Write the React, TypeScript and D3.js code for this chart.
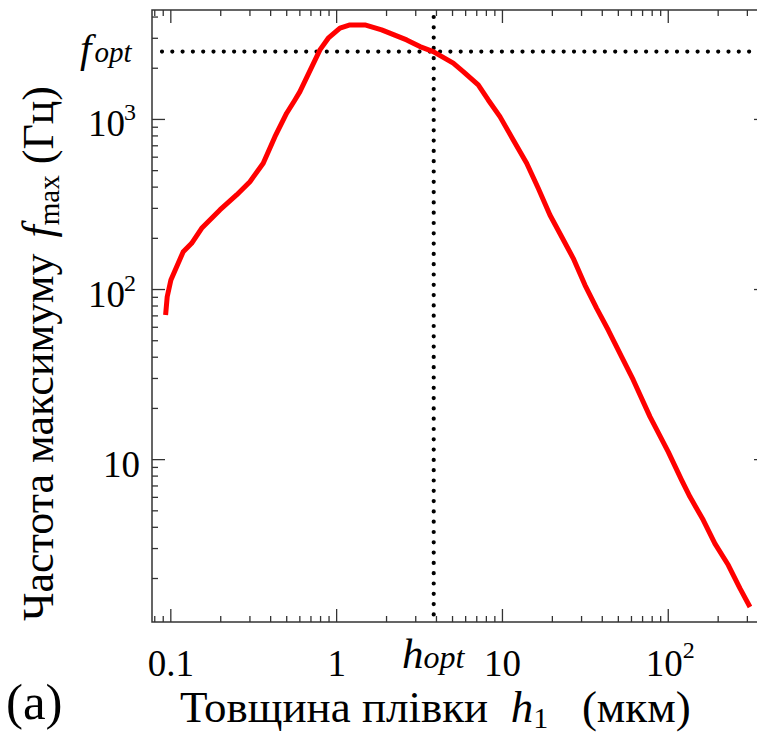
import React from "react";
import * as d3 from "d3";

const thickness = [0.093, 0.0951, 0.1001, 0.1188, 0.1335, 0.1534, 0.1977, 0.2493, 0.3, 0.3608, 0.4245, 0.4994, 0.5603, 0.6006, 0.7931, 0.8898, 1.047, 1.203, 1.481, 1.868, 2.644, 3.18, 3.825, 5.05, 5.801, 7.145, 8.21, 9.659, 11.62, 14.0, 16.44, 19.34, 22.76, 26.73, 31.45, 37.0, 43.46, 52.36, 61.51, 77.54, 100, 120.4, 135.2, 162.6, 191.2, 230.1, 270.7, 311.1];
const fmax = [70.8, 90.7, 113.7, 166.9, 187.0, 229.1, 293.6, 359.7, 430.7, 552.6, 792.1, 1088, 1302, 1457, 2564, 3003, 3440, 3596, 3596, 3361, 2935, 2681, 2505, 2141, 1911, 1595, 1302, 1039, 757.5, 552.6, 393.9, 274.3, 204.4, 152.6, 106.3, 77.5, 57.8, 40.2, 29.4, 17.9, 11.1, 7.58, 6.04, 4.41, 3.21, 2.4, 1.75, 1.36];
const xDomain = [0.077, 394];
const yDomain = [1.11, 4400];
const hOpt = 3.85;
const fOpt = 2505;
const xTickLabels = [
  { v: 0.1, base: "0.1", sup: "" },
  { v: 1, base: "1", sup: "" },
  { v: 10, base: "10", sup: "" },
  { v: 100, base: "10", sup: "2" },
];
const yTickLabels = [
  { v: 10, base: "10", sup: "" },
  { v: 100, base: "10", sup: "2" },
  { v: 1000, base: "10", sup: "3" },
];

const W = 757, H = 736;
const L = 152, R = 767, T = 10, B = 622;
const FONT = "Liberation Serif, DejaVu Serif, Times New Roman, serif";

function minorTicks(domain: number[]) {
  const out: { v: number; major: boolean }[] = [];
  for (let e = -3; e <= 5; e++) {
    for (let m = 1; m <= 9; m++) {
      const v = m * Math.pow(10, e);
      if (v >= domain[0] && v <= domain[1]) out.push({ v, major: m === 1 });
    }
  }
  return out;
}

export default function App() {
  const x = d3.scaleLog().domain(xDomain).range([L, R]);
  const y = d3.scaleLog().domain(yDomain).range([B, T]);
  const line = d3.line<number>().x((_, i) => x(thickness[i])).y((d) => y(d));
  const xt = minorTicks(xDomain);
  const yt = minorTicks(yDomain);
  const axisColor = "#333";
  const major = 13, minor = 6;
  const ts = { fontFamily: FONT };
  return (
    <svg width={W} height={H} style={{ position: "fixed", left: 0, top: 0, background: "#fff" }}>
      <rect x={0} y={0} width={W} height={H} fill="#fff" />
      <rect x={L} y={T} width={R - L} height={B - T} fill="none" stroke={axisColor} strokeWidth={1.5} />
      {xt.map((t, i) => {
        const px = x(t.v);
        const len = t.major ? major : minor;
        return (
          <g key={"x" + i}>
            <line x1={px} x2={px} y1={B} y2={B - len} stroke={axisColor} strokeWidth={1.3} />
            <line x1={px} x2={px} y1={T} y2={T + len} stroke={axisColor} strokeWidth={1.3} />
          </g>
        );
      })}
      {yt.map((t, i) => {
        const py = y(t.v);
        const len = t.major ? major : minor;
        return (
          <g key={"y" + i}>
            <line x1={L} x2={L + len} y1={py} y2={py} stroke={axisColor} strokeWidth={1.3} />
            <line x1={R} x2={R - len} y1={py} y2={py} stroke={axisColor} strokeWidth={1.3} />
          </g>
        );
      })}
      <line x1={L + 10} x2={W} y1={y(fOpt)} y2={y(fOpt)} stroke="#000" strokeWidth={4.2} strokeLinecap="round" strokeDasharray="0 10.3" />
      <line x1={x(hOpt)} x2={x(hOpt)} y1={T + 7} y2={B - 2} stroke="#000" strokeWidth={4.2} strokeLinecap="round" strokeDasharray="0 10.3" />
      <path d={line(fmax) || ""} fill="none" stroke="#ff0000" strokeWidth={5} strokeLinejoin="round" />
      {xTickLabels.map((t, i) => (
        <text key={"xl" + i} x={x(t.v) + (t.sup ? 2 : 0)} y={676} fontSize={37} textAnchor="middle" fill="#000" style={ts}>
          {t.base}
          {t.sup && <tspan dy={-18} fontSize={24}>{t.sup}</tspan>}
        </text>
      ))}
      {yTickLabels.map((t, i) => (
        <text key={"yl" + i} x={t.sup ? 125 : 140} y={y(t.v) + 17} fontSize={37} textAnchor="end" fill="#000" style={ts}>
          {t.base}
        </text>
      ))}
      {yTickLabels.filter((t) => t.sup).map((t, i) => (
        <text key={"ys" + i} x={124} y={y(t.v) + 1} fontSize={24} fill="#000" style={ts}>{t.sup}</text>
      ))}
      <text x={80} y={62} fontSize={41} fill="#000" style={ts}>
        <tspan fontStyle="italic">f</tspan>
        <tspan fontStyle="italic" fontSize={29} dx={3}>opt</tspan>
      </text>
      <text x={402} y={668} fontSize={43} fill="#000" style={ts}>
        <tspan fontStyle="italic">h</tspan>
        <tspan fontStyle="italic" fontSize={32}>opt</tspan>
      </text>
      <text x={180} y={722} fontSize={45} fill="#000" xmlSpace="preserve" style={ts}>
        <tspan>Товщина плівки  </tspan>
        <tspan fontStyle="italic">h</tspan>
        <tspan fontSize={30} dy={6}>1</tspan>
        <tspan dy={-6}>   (мкм)</tspan>
      </text>
      <text x={6} y={719} fontSize={51} fill="#000" style={ts}>(a)</text>
      <text transform="translate(53,621) rotate(-90)" fontSize={44} fill="#000" xmlSpace="preserve" style={ts}>
        <tspan>Частота максимуму </tspan>
        <tspan fontStyle="italic" dx={5}>f</tspan>
        <tspan fontSize={29} dy={6}>max</tspan>
        <tspan dy={-6}> (Гц)</tspan>
      </text>
    </svg>
  );
}
